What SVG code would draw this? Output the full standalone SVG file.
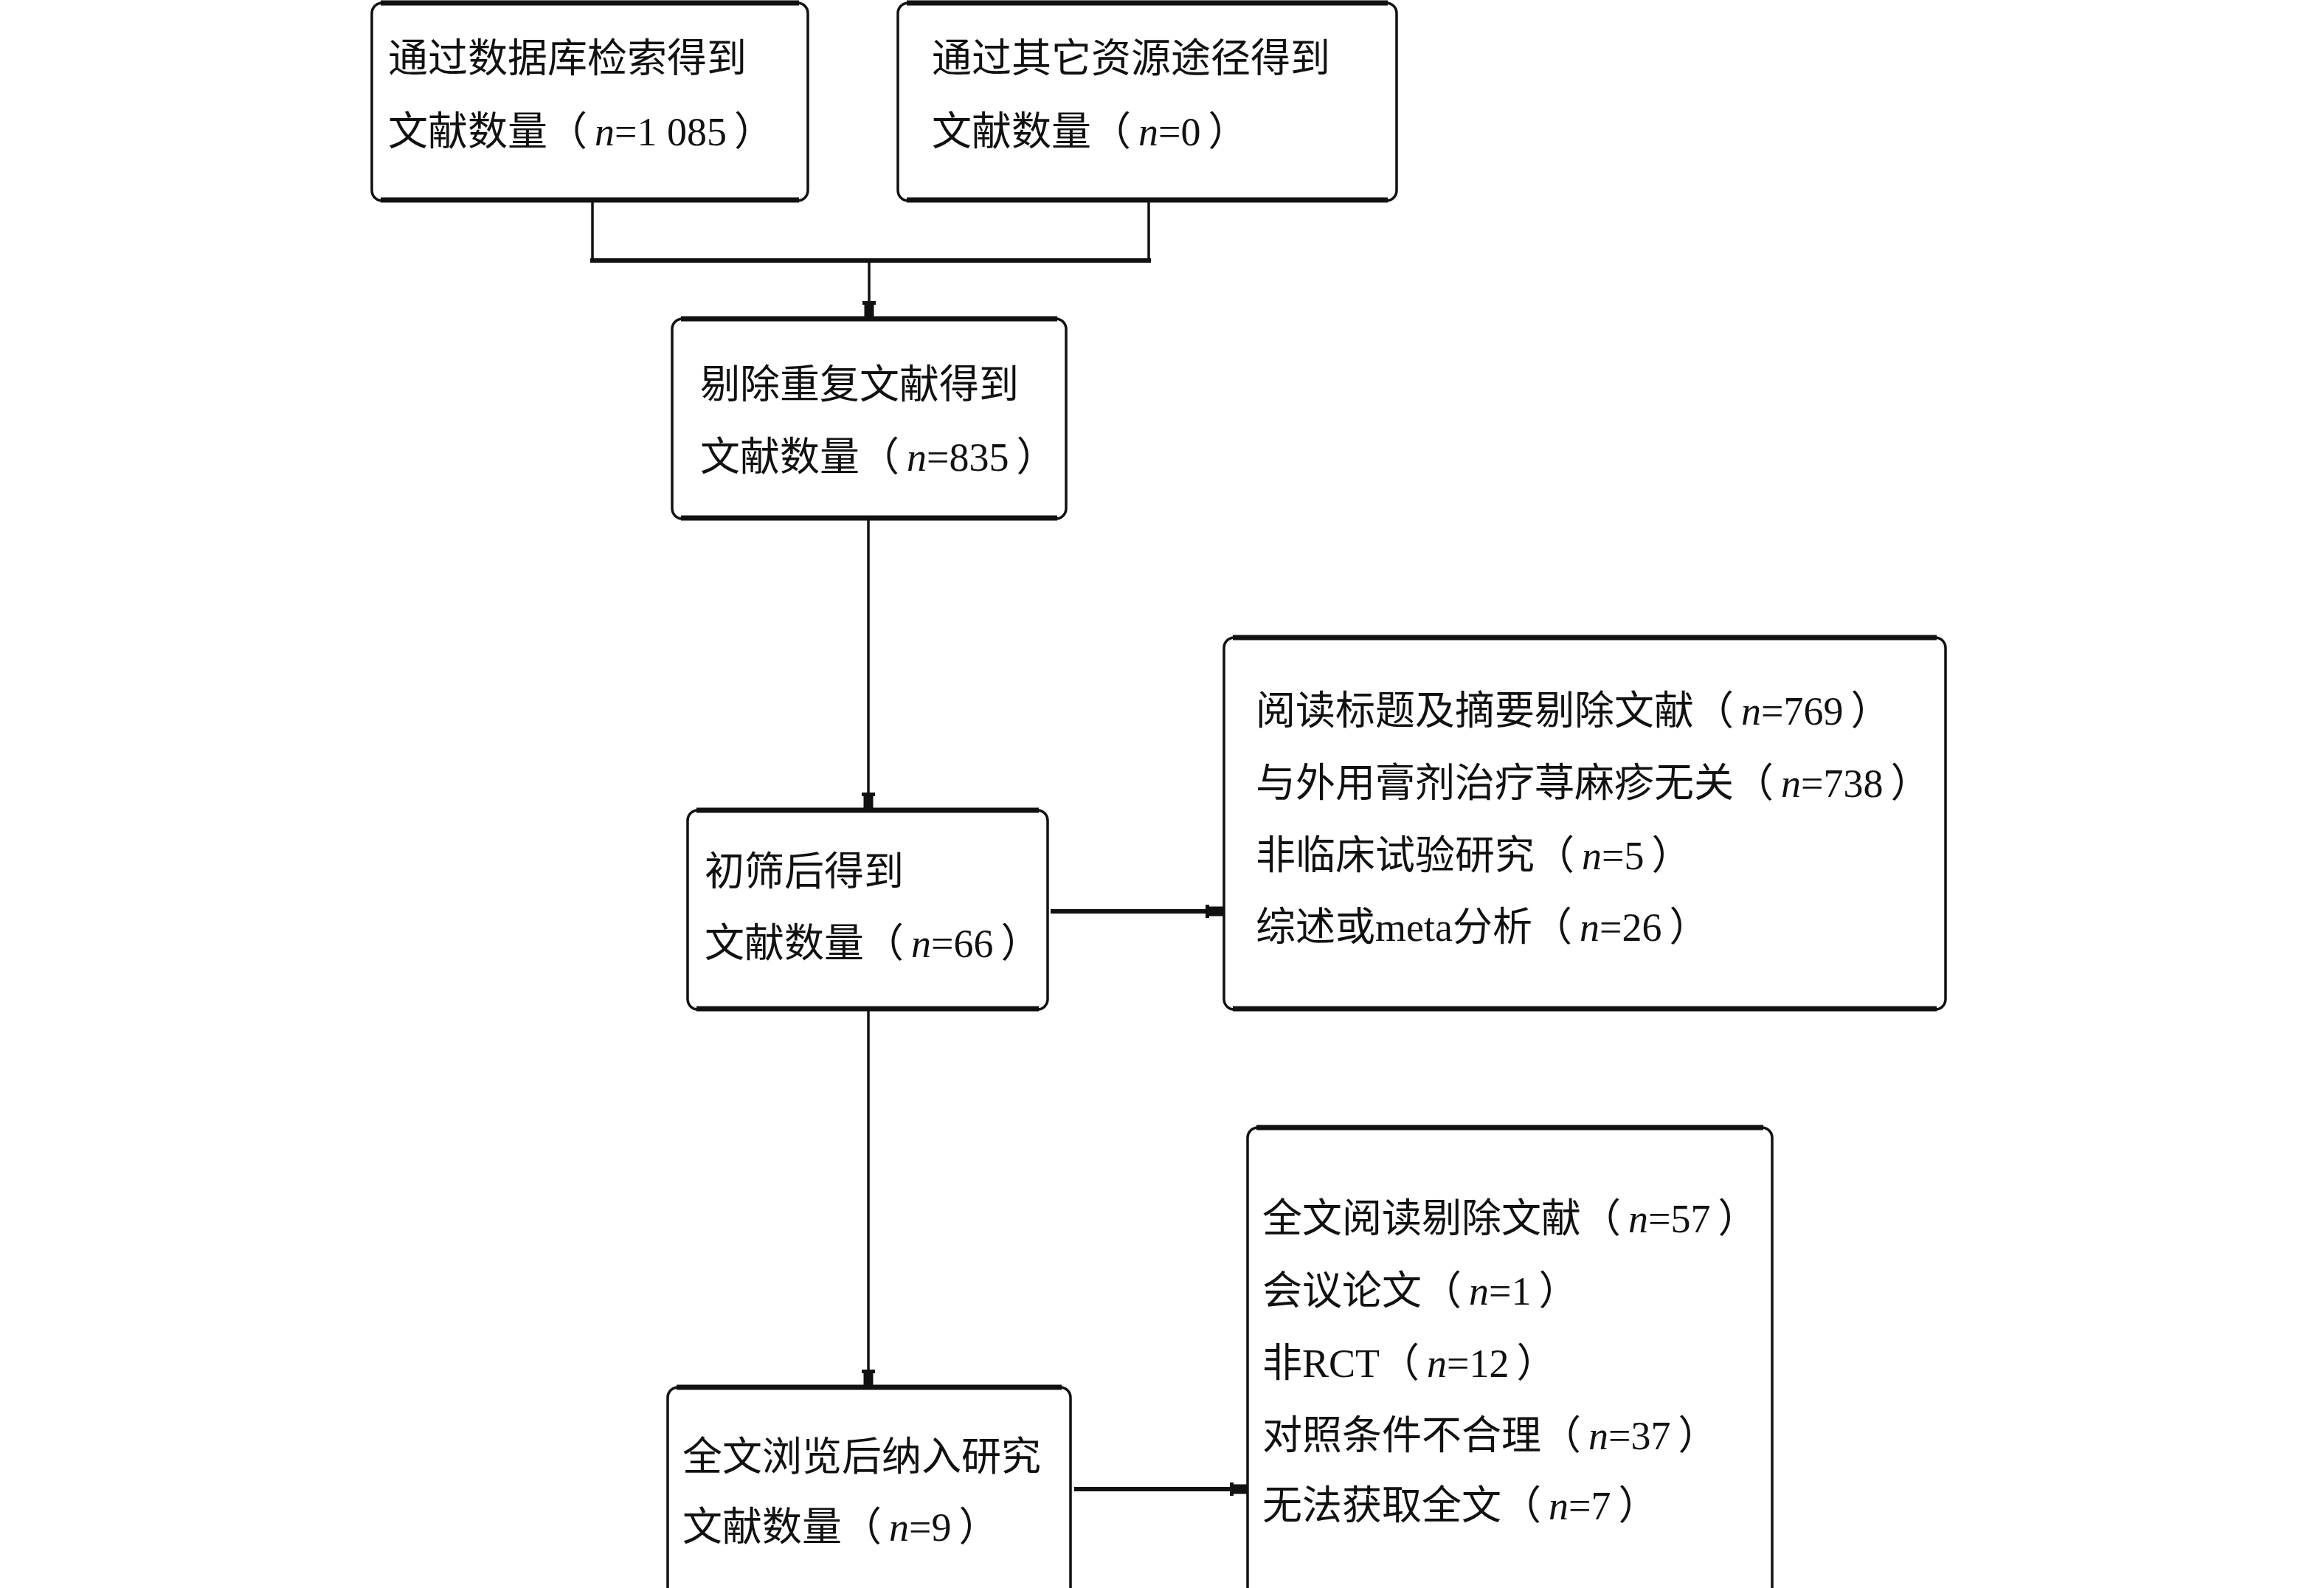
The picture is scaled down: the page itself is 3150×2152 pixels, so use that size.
<svg xmlns="http://www.w3.org/2000/svg" width="3150" height="2152" viewBox="0 0 3150 2152">
<style>
.box{fill:#fff;stroke:#111;stroke-width:3.5}
.edge{stroke:#111;stroke-width:7;stroke-linecap:butt}
.t{font-family:"Liberation Serif","Noto Sans CJK SC",serif;font-size:54px;fill:#111}
.i{font-style:italic}
.c{fill:none;stroke:#111;stroke-width:3.5}
.c2{fill:none;stroke:#111;stroke-width:6}
</style>
<defs>
<marker id="ah" markerUnits="userSpaceOnUse" markerWidth="30" markerHeight="24" viewBox="0 -12 26 24" refX="24" refY="0" orient="auto">
<path d="M0,-9 L5,-9 L5,-6.5 L24,-6.5 L24,6.5 L5,6.5 L5,9 L0,9 Z" fill="#111"/>
</marker>
</defs>
<rect width="3150" height="2152" fill="#fff"/>

<g id="connectors">
<path class="c" d="M803,272 V353"/>
<path class="c" d="M1557,272 V353"/>
<path class="c2" d="M800,353 H1560"/>
<path class="c" d="M1178,353 V432" marker-end="url(#ah)"/>
<path class="c" d="M1177,703 V1098" marker-end="url(#ah)"/>
<path class="c2" d="M1424,1235 H1658" marker-end="url(#ah)"/>
<path class="c" d="M1177,1368 V1880" marker-end="url(#ah)"/>
<path class="c2" d="M1456,2018 H1691" marker-end="url(#ah)"/>
</g>

<g id="n1">
<rect class="box" x="504" y="4" width="591" height="268" rx="14"/>
<line class="edge" x1="516" y1="4" x2="1083" y2="4"/>
<line class="edge" x1="516" y1="271" x2="1083" y2="271"/>
<text class="t" x="526" y="98">通过数据库检索得到</text>
<text class="t" x="526" y="197">文献数量（<tspan class="i" dx="10">n</tspan>=1 085<tspan dx="10">）</tspan></text>
</g>

<g id="n2">
<rect class="box" x="1217" y="4" width="676" height="268" rx="14"/>
<line class="edge" x1="1229" y1="4" x2="1881" y2="4"/>
<line class="edge" x1="1229" y1="271" x2="1881" y2="271"/>
<text class="t" x="1263" y="98">通过其它资源途径得到</text>
<text class="t" x="1263" y="197">文献数量（<tspan class="i" dx="10">n</tspan>=0<tspan dx="10">）</tspan></text>
</g>

<g id="n3">
<rect class="box" x="911" y="432" width="534" height="271" rx="14"/>
<line class="edge" x1="923" y1="432" x2="1433" y2="432"/>
<line class="edge" x1="923" y1="702" x2="1433" y2="702"/>
<text class="t" x="949" y="540">剔除重复文献得到</text>
<text class="t" x="949" y="638">文献数量（<tspan class="i" dx="10">n</tspan>=835<tspan dx="10">）</tspan></text>
</g>

<g id="n4">
<rect class="box" x="1659" y="864" width="978" height="504" rx="14"/>
<line class="edge" x1="1671" y1="864" x2="2625" y2="864"/>
<line class="edge" x1="1671" y1="1367" x2="2625" y2="1367"/>
<text class="t" x="1702" y="982">阅读标题及摘要剔除文献（<tspan class="i" dx="10">n</tspan>=769<tspan dx="10">）</tspan></text>
<text class="t" x="1702" y="1080">与外用膏剂治疗荨麻疹无关（<tspan class="i" dx="10">n</tspan>=738<tspan dx="10">）</tspan></text>
<text class="t" x="1702" y="1178">非临床试验研究（<tspan class="i" dx="10">n</tspan>=5<tspan dx="10">）</tspan></text>
<text class="t" x="1702" y="1275">综述或meta分析（<tspan class="i" dx="10">n</tspan>=26<tspan dx="10">）</tspan></text>
</g>

<g id="n5">
<rect class="box" x="932" y="1098" width="488" height="270" rx="14"/>
<line class="edge" x1="944" y1="1098" x2="1408" y2="1098"/>
<line class="edge" x1="944" y1="1367" x2="1408" y2="1367"/>
<text class="t" x="955" y="1200">初筛后得到</text>
<text class="t" x="955" y="1297">文献数量（<tspan class="i" dx="10">n</tspan>=66<tspan dx="10">）</tspan></text>
</g>

<g id="n6">
<rect class="box" x="1691" y="1528" width="711" height="640" rx="14"/>
<line class="edge" x1="1703" y1="1528" x2="2390" y2="1528"/>
<text class="t" x="1711" y="1670">全文阅读剔除文献（<tspan class="i" dx="10">n</tspan>=57<tspan dx="10">）</tspan></text>
<text class="t" x="1711" y="1768">会议论文（<tspan class="i" dx="10">n</tspan>=1<tspan dx="10">）</tspan></text>
<text class="t" x="1711" y="1866">非RCT（<tspan class="i" dx="10">n</tspan>=12<tspan dx="10">）</tspan></text>
<text class="t" x="1711" y="1964">对照条件不合理（<tspan class="i" dx="10">n</tspan>=37<tspan dx="10">）</tspan></text>
<text class="t" x="1711" y="2059">无法获取全文（<tspan class="i" dx="10">n</tspan>=7<tspan dx="10">）</tspan></text>
</g>

<g id="n7">
<rect class="box" x="905" y="1880" width="546" height="288" rx="14"/>
<line class="edge" x1="917" y1="1880" x2="1439" y2="1880"/>
<text class="t" x="925" y="1993">全文浏览后纳入研究</text>
<text class="t" x="925" y="2088">文献数量（<tspan class="i" dx="10">n</tspan>=9<tspan dx="10">）</tspan></text>
</g>
</svg>
